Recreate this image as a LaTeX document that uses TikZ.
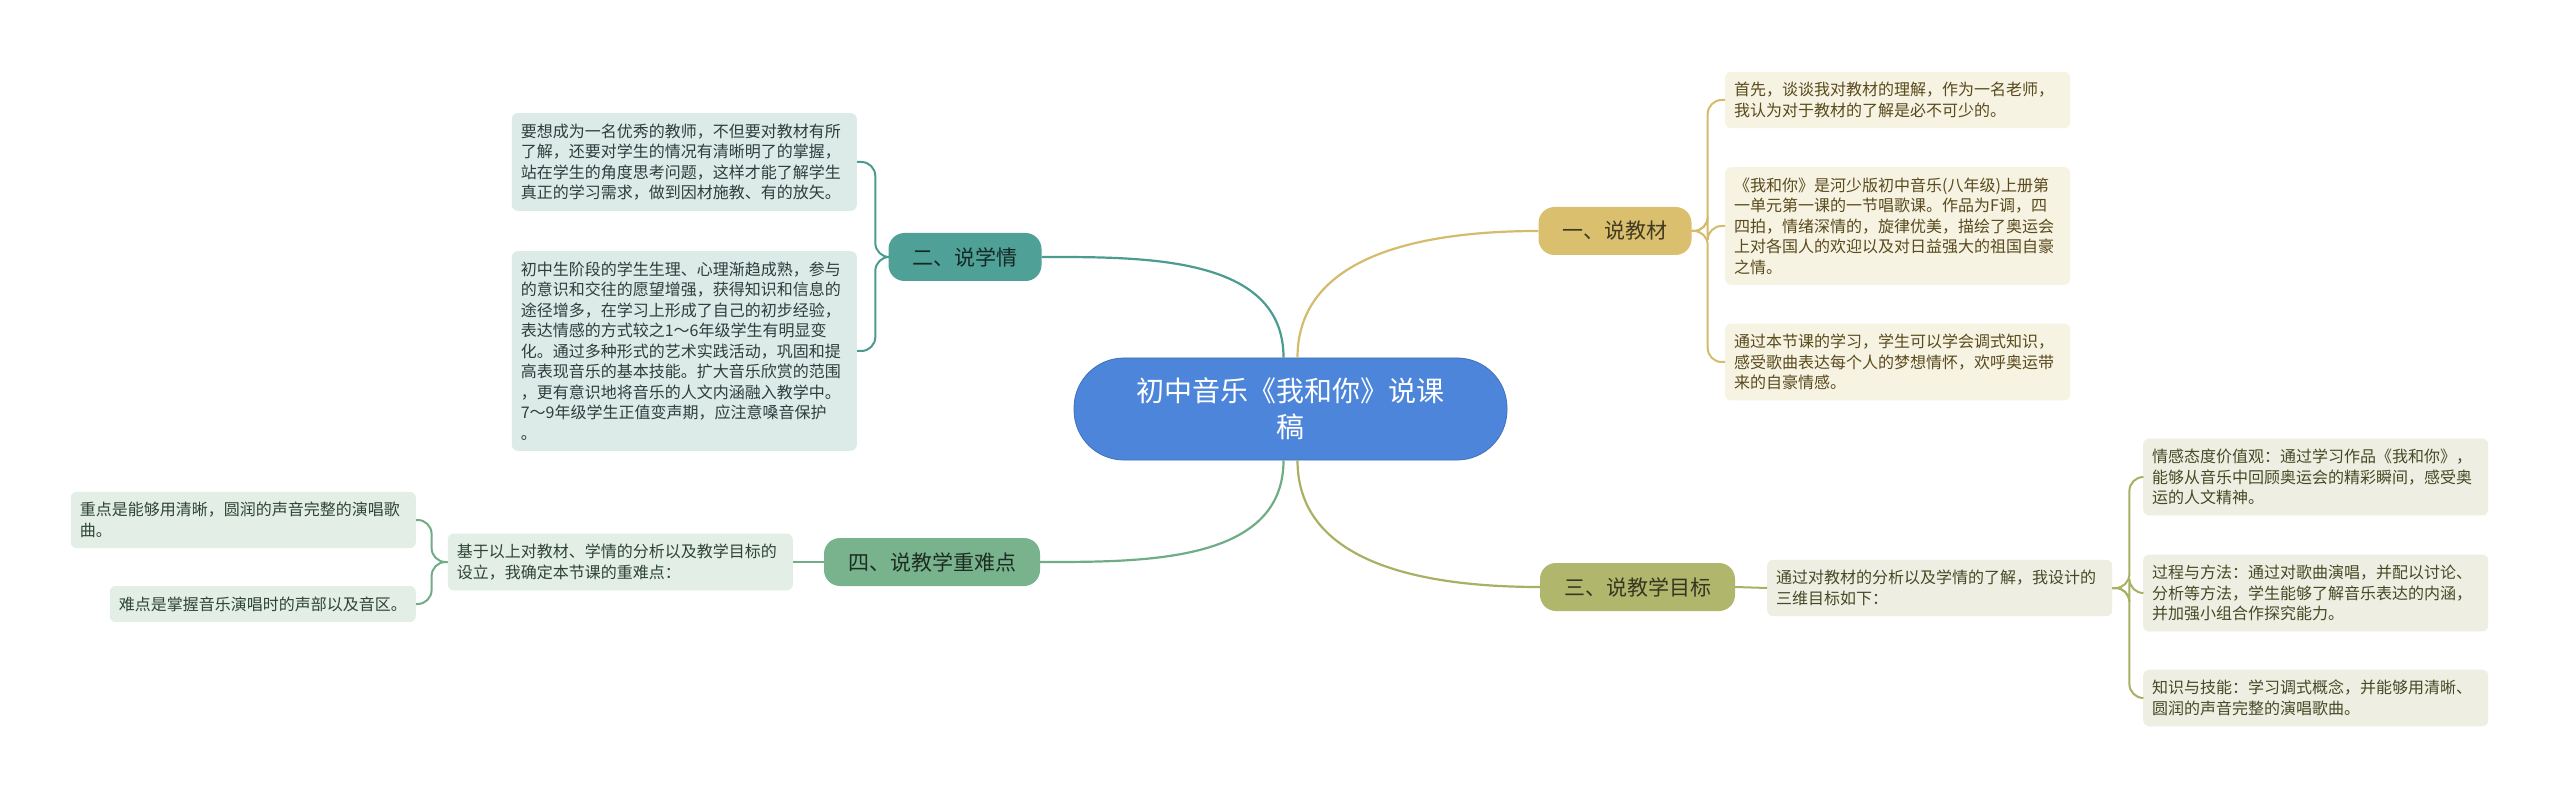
\documentclass[tikz,border=0pt]{standalone}
\usepackage{fontspec}
\setmainfont{Noto Sans CJK SC}

\definecolor{rootblue}{HTML}{4C85DA}
\definecolor{goldtopic}{HTML}{D9BF6E}
\definecolor{goldline}{HTML}{D5BC6C}
\definecolor{goldleaf}{HTML}{F6F3E3}
\definecolor{goldtext}{HTML}{5A4A1C}
\definecolor{tealtopic}{HTML}{4FA096}
\definecolor{tealline}{HTML}{4B9B90}
\definecolor{tealleaf}{HTML}{DCEAE8}
\definecolor{tealtext}{HTML}{2C3F3C}
\definecolor{greentopic}{HTML}{79B38D}
\definecolor{greenline}{HTML}{70AD86}
\definecolor{greenleaf}{HTML}{E2EEE6}
\definecolor{greentext}{HTML}{2E4436}
\definecolor{olivetopic}{HTML}{B1B66D}
\definecolor{oliveline}{HTML}{AAB063}
\definecolor{oliveleaf}{HTML}{EEEFE2}
\definecolor{olivetext}{HTML}{474925}

\begin{document}
\begin{tikzpicture}[x=1pt, y=-1pt,
  root/.style={fill=rootblue, draw=rootblue!85!black, line width=0.8pt, text=white,
    rounded corners=50pt, minimum width=433pt, minimum height=102pt, align=center,
    font=\fontsize{28}{36}\selectfont},
  topic/.style={rounded corners=16pt, minimum height=48pt, inner xsep=24pt,
    font=\fontsize{21}{25}\selectfont},
  leaf/.style={rounded corners=6pt, inner xsep=9pt, inner ysep=10.5pt,
    text width=327pt, align=left, font=\fontsize{16}{20.5}\selectfont},
  link/.style={line width=2pt, rounded corners=14pt}]

  \useasboundingbox[fill=white] (0,0) rectangle (2560,799);

  % Center
  \node[root] (c) at (1290.5,409) {初中音乐《我和你》说课\\稿};

  % Topics
  \node[topic, fill=goldtopic, text=goldtopic!30!black] (n1) at (1615,231) {一、说教材};
  \node[topic, fill=tealtopic, text=tealtopic!25!black] (n2) at (965,257) {二、说学情};
  \node[topic, fill=olivetopic, text=olivetopic!30!black] (n3) at (1637.5,587) {三、说教学目标};
  \node[topic, fill=greentopic, text=greentopic!25!black] (n4) at (932,562) {四、说教学重难点};

  % Topic links
  \draw[goldline, line width=2.2pt] ([xshift=7pt]c.north) to[out=90, in=180] (n1.west);
  \draw[tealline, line width=2.2pt] ([xshift=-7pt]c.north) to[out=90, in=0] (n2.east);
  \draw[oliveline, line width=2.2pt] ([xshift=7pt]c.south) to[out=-90, in=180] (n3.west);
  \draw[greenline, line width=2.2pt] ([xshift=-7pt]c.south) to[out=-90, in=0] (n4.east);

  % 一、说教材
  \node[leaf, fill=goldleaf, text=goldtext, anchor=west] (a1) at (1725,100)
    {首先，谈谈我对教材的理解，作为一名老师，\\我认为对于教材的了解是必不可少的。};
  \node[leaf, fill=goldleaf, text=goldtext, anchor=west] (a2) at (1725,226)
    {《我和你》是河少版初中音乐(八年级)上册第\\一单元第一课的一节唱歌课。作品为F调，四\\四拍，情绪深情的，旋律优美，描绘了奥运会\\上对各国人的欢迎以及对日益强大的祖国自豪\\之情。};
  \node[leaf, fill=goldleaf, text=goldtext, anchor=west] (a3) at (1725,362)
    {通过本节课的学习，学生可以学会调式知识，\\感受歌曲表达每个人的梦想情怀，欢呼奥运带\\来的自豪情感。};
  \foreach \k in {a1,a2,a3}
    \draw[link, goldline] (n1.east) -- ++(16,0) |- (\k.west);

  % 二、说学情
  \node[leaf, fill=tealleaf, text=tealtext, anchor=east] (b1) at (857,162)
    {要想成为一名优秀的教师，不但要对教材有所\\了解，还要对学生的情况有清晰明了的掌握，\\站在学生的角度思考问题，这样才能了解学生\\真正的学习需求，做到因材施教、有的放矢。};
  \node[leaf, fill=tealleaf, text=tealtext, anchor=east] (b2) at (857,351)
    {初中生阶段的学生生理、心理渐趋成熟，参与\\的意识和交往的愿望增强，获得知识和信息的\\途径增多，在学习上形成了自己的初步经验，\\表达情感的方式较之1～6年级学生有明显变\\化。通过多种形式的艺术实践活动，巩固和提\\高表现音乐的基本技能。扩大音乐欣赏的范围\\，更有意识地将音乐的人文内涵融入教学中。\\7～9年级学生正值变声期，应注意嗓音保护\\。};
  \foreach \k in {b1,b2}
    \draw[link, tealline] (n2.west) -- ++(-13,0) |- (\k.east);

  % 三、说教学目标
  \node[leaf, fill=oliveleaf, text=olivetext, anchor=west] (e0) at (1767,588)
    {通过对教材的分析以及学情的了解，我设计的\\三维目标如下：};
  \draw[link, oliveline] (n3.east) -- (e0.west);
  \node[leaf, fill=oliveleaf, text=olivetext, anchor=west] (e1) at (2143,477)
    {情感态度价值观：通过学习作品《我和你》，\\能够从音乐中回顾奥运会的精彩瞬间，感受奥\\运的人文精神。};
  \node[leaf, fill=oliveleaf, text=olivetext, anchor=west] (e2) at (2143,593)
    {过程与方法：通过对歌曲演唱，并配以讨论、\\分析等方法，学生能够了解音乐表达的内涵，\\并加强小组合作探究能力。};
  \node[leaf, fill=oliveleaf, text=olivetext, anchor=west] (e3) at (2143,698)
    {知识与技能：学习调式概念，并能够用清晰、\\圆润的声音完整的演唱歌曲。};
  \foreach \k in {e1,e2,e3}
    \draw[link, oliveline] (e0.east) -- ++(17,0) |- (\k.west);

  % 四、说教学重难点
  \node[leaf, fill=greenleaf, text=greentext, anchor=east] (d0) at (793,562)
    {基于以上对教材、学情的分析以及教学目标的\\设立，我确定本节课的重难点：};
  \draw[link, greenline] (n4.west) -- (d0.east);
  \node[leaf, fill=greenleaf, text=greentext, anchor=east] (d1) at (416,520)
    {重点是能够用清晰，圆润的声音完整的演唱歌\\曲。};
  \node[leaf, fill=greenleaf, text=greentext, anchor=east, text width=] (d2) at (416,604)
    {难点是掌握音乐演唱时的声部以及音区。};
  \foreach \k in {d1,d2}
    \draw[link, greenline] (d0.west) -- ++(-16,0) |- (\k.east);
\end{tikzpicture}
\end{document}
